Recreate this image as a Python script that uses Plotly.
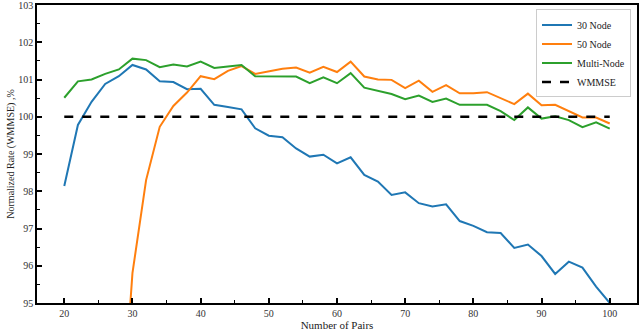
import plotly.graph_objects as go

# Number of Pairs
pairs = list(range(20, 101, 2))

# Normalized Rate (WMMSE), %
node30 = [98.14, 99.78, 100.40, 100.88, 101.09, 101.39, 101.27, 100.95, 100.93, 100.74,
          100.75, 100.32, 100.26, 100.20, 99.69, 99.49, 99.45, 99.15, 98.93, 98.98,
          98.75, 98.91, 98.44, 98.26, 97.90, 97.97, 97.68, 97.59, 97.65, 97.20,
          97.07, 96.90, 96.88, 96.48, 96.57, 96.26, 95.78, 96.11, 95.95, 95.44, 95.00]

pairs50 = list(range(28, 101, 2))
node50 = [90.6, 95.80, 98.30, 99.73, 100.29, 100.65, 101.09, 101.01, 101.23, 101.36,
          101.15, 101.23, 101.29, 101.32, 101.18, 101.34, 101.20, 101.48, 101.08, 101.00,
          100.99, 100.77, 100.97, 100.67, 100.85, 100.63, 100.63, 100.66, 100.49, 100.34,
          100.62, 100.31, 100.32, 100.14, 99.98, 99.98, 99.82]

multi = [100.51, 100.95, 101.00, 101.15, 101.27, 101.56, 101.52, 101.33, 101.40, 101.35,
         101.48, 101.31, 101.35, 101.39, 101.09, 101.09, 101.09, 101.08, 100.90, 101.06,
         100.90, 101.17, 100.78, 100.70, 100.61, 100.47, 100.57, 100.40, 100.49, 100.32,
         100.33, 100.32, 100.15, 99.91, 100.25, 99.95, 100.01, 99.91, 99.72, 99.85, 99.68]

wmmse_x = [20, 100]
wmmse = [100, 100]

font = "Liberation Serif"

fig = go.Figure()
fig.add_trace(go.Scatter(x=pairs, y=node30, mode="lines", name="30 Node",
                         line=dict(color="#1f77b4", width=2)))
fig.add_trace(go.Scatter(x=pairs50, y=node50, mode="lines", name="50 Node",
                         line=dict(color="#ff7f0e", width=2)))
fig.add_trace(go.Scatter(x=pairs, y=multi, mode="lines", name="Multi-Node",
                         line=dict(color="#2ca02c", width=2)))
fig.add_trace(go.Scatter(x=wmmse_x, y=wmmse, mode="lines", name="WMMSE",
                         line=dict(color="black", width=2.5, dash="dash")))

axis_common = dict(
    showline=True, linecolor="black", linewidth=1.5, mirror=True,
    showgrid=False, zeroline=False, automargin=False,
    ticks="inside", ticklen=5, tickwidth=1.5, tickcolor="black",
    ticklabeloverflow="allow",
    tickfont=dict(family=font, size=10, color="#333"),
)

fig.update_xaxes(range=[16, 104], dtick=10, tick0=0,
                 minor=dict(ticks="inside", ticklen=3, tickwidth=1.2, dtick=5, tickcolor="black"),
                 title=dict(text="Number of Pairs", font=dict(family=font, size=11, color="#222"),
                            standoff=2),
                 **axis_common)
fig.update_yaxes(range=[95, 103], dtick=1,
                 minor=dict(ticks="inside", ticklen=3, tickwidth=1.2, dtick=0.5, tickcolor="black"),
                 title=dict(text="Normalized Rate (WMMSE) ,%", font=dict(family=font, size=10, color="#222"),
                            standoff=2),
                 **axis_common)

fig.update_layout(
    width=640, height=331,
    margin=dict(l=37, r=3, t=5, b=28),
    plot_bgcolor="white", paper_bgcolor="white",
    font=dict(family=font, size=10, color="#222"),
    legend=dict(x=0.99, y=0.985, xanchor="right", yanchor="top",
                bordercolor="#ccc", borderwidth=1, bgcolor="rgba(255,255,255,0.8)",
                font=dict(family=font, size=10, color="#222"),
                tracegroupgap=0, itemwidth=30),
    showlegend=True,
)

# drop the default body margin so the figure sits at the page corner
fig.write_html("out.html", config={"displayModeBar": False},
               post_script="document.body.style.margin='0';")
